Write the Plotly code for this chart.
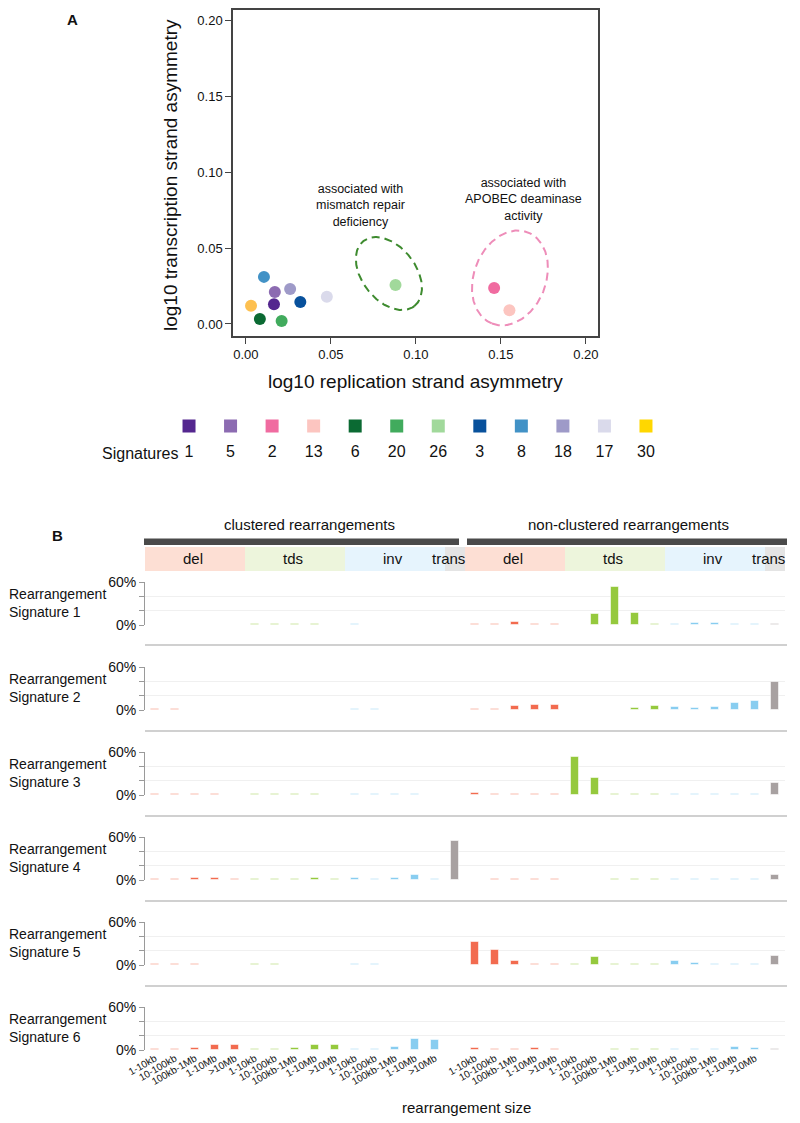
import numpy as np
import plotly.graph_objects as go

W, H = 800, 1123
FONT = "Liberation Sans, Arial, Helvetica, sans-serif"
PAGE_OFF = 8  # default body margin of the html page


def fx(p):
    return (p - PAGE_OFF) / W


def fy(p):
    return 1 - (p - PAGE_OFF) / H


# ---------------- Panel A data ----------------
signatures = ["1", "5", "2", "13", "6", "20", "26", "3", "8", "18", "17", "30"]
legend_colors = ["#54278F", "#8C6BB1", "#F06BA0", "#FCC5C0", "#0B6A33", "#41AB5D",
                 "#A1D99B", "#08519C", "#4292C6", "#9E9AC8", "#DADAEB", "#FFD700"]
point_colors = ["#54278F", "#8C6BB1", "#F06BA0", "#FCC5C0", "#0B6A33", "#41AB5D",
                "#A1D99B", "#08519C", "#4292C6", "#9E9AC8", "#DADAEB", "#FDC050"]
replication_asym = [0.0165, 0.017, 0.146, 0.155, 0.0082, 0.021, 0.088, 0.032,
                    0.0106, 0.026, 0.0476, 0.003]
transcription_asym = [0.013, 0.021, 0.0237, 0.009, 0.0033, 0.002, 0.0257, 0.0145,
                      0.031, 0.023, 0.018, 0.012]
a_ticks = [0.0, 0.05, 0.10, 0.15, 0.20]

# ---------------- Panel B data ----------------
size_labels = ["1-10kb", "10-100kb", "100kb-1Mb", "1-10Mb", ">10Mb"]
classes = ["del", "tds", "inv", "trans"]
class_colors = {"del": "#F26B4F", "tds": "#95C93D", "inv": "#88CDF0", "trans": "#A8A1A1"}
class_bg = {"del": "#FDDFD4", "tds": "#EDF5DC", "inv": "#E6F4FD", "trans": "#E4E4E4"}
groups = ["clustered rearrangements", "non-clustered rearrangements"]

sig1 = [0, 0, 0, 0, 0, 1.5, 1.5, 1.5, 1.5, 0, 1.5, 0, 0, 0, 0, 0,
        1.5, 1.5, 4, 1.5, 1.5, 0, 15, 53, 16.5, 1.5, 1.5, 2.5, 2.5, 1.5, 1.5, 1.5]
sig2 = [1.5, 1.5, 0, 0, 0, 0, 0, 0, 0, 0, 1.5, 1.5, 0, 0, 0, 0,
        2, 1.5, 5.6, 6.5, 7.4, 0, 0, 0, 2.8, 5.6, 4.6, 2.8, 4.6, 10, 12, 39]
sig3 = [1.5, 1.5, 1.5, 1.5, 0, 1.5, 1.5, 1.5, 1.5, 0, 1.5, 1.5, 1.5, 1.5, 0, 0,
        2.2, 1.5, 1.5, 1.5, 1.5, 53, 24, 1.5, 1.5, 1.5, 1.5, 1.5, 1.5, 1.5, 1.5, 17]
sig4 = [1.5, 1.5, 2.2, 3, 1.5, 1.5, 1.5, 1.8, 3, 1.5, 2.2, 1.8, 2.6, 6.5, 1.5, 55,
        0, 1.5, 1.5, 1.5, 1.5, 0, 0, 1.5, 1.8, 1.5, 1.5, 1.5, 1.5, 1.8, 1.5, 7]
sig5 = [1.5, 1.5, 1.5, 0, 0, 1.5, 1.5, 0, 0, 0, 1.5, 1.5, 0, 0, 0, 0,
        31.6, 21, 5, 1.5, 1.5, 1.6, 11.6, 1.5, 1.5, 1.5, 5.6, 3.3, 1.5, 1.5, 2, 13]
sig6 = [1.5, 1.5, 3, 7.5, 7.5, 1.5, 1.5, 3, 7.5, 7, 1.5, 1.5, 4.6, 15, 14, 0,
        2.5, 1.6, 1.6, 2.5, 1.6, 0, 0, 1.5, 1.5, 1.5, 1.5, 1.5, 1.5, 4, 3, 1.5]
rearr_sigs = [sig1, sig2, sig3, sig4, sig5, sig6]
rearr_names = ["Rearrangement<br>Signature %d" % (i + 1) for i in range(6)]

# build category structure
cat_class, cat_label = [], []
for g in groups:
    for c in classes:
        if c == "trans":
            cat_class.append(c)
            cat_label.append("")
        else:
            for s in size_labels:
                cat_class.append(c)
                cat_label.append(s)
NCAT = len(cat_class)
xpos = list(range(NCAT))
bar_colors = [class_colors[c] for c in cat_class]

fig = go.Figure()

# ---------------- Panel A ----------------
A_XPX = (233, 598)
A_YPX = (10, 336)
xA_range = [-0.0076, 0.2071]
yA_range = [-0.0079, 0.2066]

fig.add_trace(go.Scatter(
    x=replication_asym, y=transcription_asym, mode="markers",
    marker=dict(color=point_colors, size=12, line=dict(width=0)),
    xaxis="x", yaxis="y", showlegend=False, hoverinfo="skip"))

sx = (A_XPX[1] - A_XPX[0]) / (xA_range[1] - xA_range[0])
sy = (A_YPX[1] - A_YPX[0]) / (yA_range[1] - yA_range[0])


def ellipse(cx, cy, a, b, phi_deg):
    t = np.linspace(0, 2 * np.pi, 240)
    ph = np.radians(phi_deg)
    ux, uy = np.sin(ph), np.cos(ph)
    vx, vy = np.cos(ph), -np.sin(ph)
    ox = a * np.cos(t) * ux + b * np.sin(t) * vx
    oy = a * np.cos(t) * uy + b * np.sin(t) * vy
    return cx + ox / sx, cy - oy / sy


# (center x, center y, semi-major px, semi-minor px, tilt deg, colour)
ellipses = [
    (0.0841, 0.0332, 41.3, 26.8, 38.0, "#3E8B2F"),
    (0.1553, 0.0303, 49.0, 36.0, -21.5, "#EE8DB9"),
]
for cx, cy, a, b, ph, col in ellipses:
    ex, ey = ellipse(cx, cy, a, b, ph)
    fig.add_trace(go.Scatter(x=ex, y=ey, mode="lines",
                             line=dict(color=col, width=2, dash="8px,5px"),
                             xaxis="x", yaxis="y", showlegend=False, hoverinfo="skip"))

# ---------------- Legend row ----------------
fig.add_trace(go.Scatter(
    x=list(range(len(signatures))), y=[0.78] * len(signatures), mode="markers",
    marker=dict(symbol="square", size=13, color=legend_colors, line=dict(width=0)),
    xaxis="x2", yaxis="y2", showlegend=False, hoverinfo="skip"))
fig.add_trace(go.Scatter(
    x=list(range(len(signatures))), y=[0.24] * len(signatures), mode="text",
    text=signatures, textfont=dict(size=16, color="#111", family=FONT),
    xaxis="x2", yaxis="y2", showlegend=False, hoverinfo="skip"))

# ---------------- Panel B bars ----------------
BASE0 = 625
ROWSTEP = 85
ROWH = 43
for r, vals in enumerate(rearr_sigs):
    fig.add_trace(go.Bar(
        x=xpos, y=vals, width=0.42,
        marker=dict(color=bar_colors, line=dict(color="rgba(255,255,255,0.55)", width=1)),
        xaxis="x%d" % (3 + r), yaxis="y%d" % (3 + r), showlegend=False, hoverinfo="skip"))

layout = dict(
    width=W, height=H, autosize=False,
    margin=dict(l=0, r=0, t=0, b=0, pad=0, autoexpand=False),
    paper_bgcolor="white", plot_bgcolor="rgba(0,0,0,0)",
    font=dict(family=FONT, color="#111"),
    bargap=0,
)

layout["xaxis"] = dict(domain=[fx(A_XPX[0]), fx(A_XPX[1])], range=xA_range, anchor="y",
                       tickvals=a_ticks, tickformat=".2f", ticks="outside", ticklen=6,
                       tickcolor="#444", showline=True, linecolor="#444", linewidth=1.5,
                       mirror=True, showgrid=False, zeroline=False, automargin=False,
                       tickfont=dict(size=13, color="#111"))
layout["yaxis"] = dict(domain=[fy(A_YPX[1]), fy(A_YPX[0])], range=yA_range, anchor="x",
                       tickvals=a_ticks, tickformat=".2f", ticks="outside", ticklen=6,
                       tickcolor="#444", showline=True, linecolor="#444", linewidth=1.5,
                       mirror=True, showgrid=False, zeroline=False, automargin=False,
                       tickfont=dict(size=13, color="#111"))

layout["xaxis2"] = dict(domain=[fx(168.25), fx(666.75)], range=[-0.5, len(signatures) - 0.5],
                        anchor="y2", visible=False, automargin=False)
layout["yaxis2"] = dict(domain=[fy(465), fy(415)], range=[0, 1], anchor="x2", visible=False,
                        automargin=False)

for r in range(6):
    base = BASE0 + ROWSTEP * r
    last = (r == 5)
    layout["xaxis%d" % (3 + r)] = dict(
        domain=[fx(145), fx(785)], range=[-0.5, NCAT - 0.5], anchor="y%d" % (3 + r),
        showgrid=False, zeroline=False, showline=False, ticks="", automargin=False,
        tickvals=xpos, ticktext=cat_label, showticklabels=last, tickangle=-30,
        tickfont=dict(size=10, color="#111"))
    layout["yaxis%d" % (3 + r)] = dict(
        domain=[fy(base), fy(base - ROWH)], range=[0, 60], anchor="x%d" % (3 + r),
        tickvals=[0, 20, 40, 60], ticktext=["0%", "", "", "60%"], automargin=False,
        showline=True, linecolor="#9a9a9a", linewidth=1, ticks="outside", ticklen=5,
        tickcolor="#9a9a9a", showgrid=True, gridcolor="#f0f0f0", gridwidth=1,
        zeroline=False, tickfont=dict(size=14, color="#111"))

shapes = []
annotations = []

# separators between rows
for r in range(5):
    yy = BASE0 + ROWSTEP * r + 21 + (0 if r else -1)
    shapes.append(dict(type="line", xref="paper", yref="paper", x0=fx(145), x1=fx(787),
                       y0=fy(yy), y1=fy(yy), line=dict(color="#d0d0d0", width=2)))

# header bars (group)
for x0, x1 in [(144, 459), (467, 787)]:
    shapes.append(dict(type="rect", xref="paper", yref="paper", x0=fx(x0), x1=fx(x1),
                       y0=fy(545), y1=fy(538.5), fillcolor="#4a4a4a", line=dict(width=0),
                       layer="above"))

# class backgrounds from category structure
i = 0
class_spans = []
while i < NCAT:
    j = i
    while j + 1 < NCAT and cat_class[j + 1] == cat_class[i]:
        j += 1
    class_spans.append((cat_class[i], i, j))
    i = j + 1
for c, i0, i1 in class_spans:
    shapes.append(dict(type="rect", xref="x3", yref="paper", x0=i0 - 0.5, x1=i1 + 0.5,
                       y0=fy(571), y1=fy(547), fillcolor=class_bg[c], line=dict(width=0),
                       layer="below"))
    if c == "trans":
        xc = (i0 + i1) / 2 - 0.35
    else:
        xc = (i0 + i1) / 2 - 0.1
    annotations.append(dict(text=c, xref="x3", yref="paper", x=xc, y=fy(558),
                            showarrow=False, font=dict(size=15, color="#111"),
                            xanchor="center", yanchor="middle"))

# group titles
annotations.append(dict(text=groups[0], xref="paper", yref="paper", x=fx(309), y=fy(524),
                        showarrow=False, font=dict(size=15), xanchor="center", yanchor="middle"))
annotations.append(dict(text=groups[1], xref="paper", yref="paper", x=fx(628), y=fy(524),
                        showarrow=False, font=dict(size=15), xanchor="center", yanchor="middle"))

# row labels
for r in range(6):
    base = BASE0 + ROWSTEP * r
    annotations.append(dict(text=rearr_names[r], xref="paper", yref="paper",
                            x=fx(7), y=fy(base - 22), showarrow=False, align="left",
                            xanchor="left", yanchor="middle", font=dict(size=14)))

# panel letters
annotations.append(dict(text="<b>A</b>", xref="paper", yref="paper", x=fx(72), y=fy(20),
                        showarrow=False, font=dict(size=15), xanchor="center", yanchor="middle"))
annotations.append(dict(text="<b>B</b>", xref="paper", yref="paper", x=fx(57), y=fy(535),
                        showarrow=False, font=dict(size=15), xanchor="center", yanchor="middle"))

# panel A axis titles
annotations.append(dict(text="log10 replication strand asymmetry", xref="paper", yref="paper",
                        x=fx(415), y=fy(382), showarrow=False, font=dict(size=19),
                        xanchor="center", yanchor="middle"))
annotations.append(dict(text="log10 transcription strand asymmetry", xref="paper", yref="paper",
                        x=fx(170), y=fy(175), showarrow=False, font=dict(size=19),
                        textangle=-90, xanchor="center", yanchor="middle"))

# ellipse notes
annotations.append(dict(text="associated with<br>mismatch repair<br>deficiency",
                        xref="paper", yref="paper", x=fx(360), y=fy(205), showarrow=False,
                        font=dict(size=12.5), align="center", xanchor="center", yanchor="middle"))
annotations.append(dict(text="associated with<br>APOBEC deaminase<br>activity",
                        xref="paper", yref="paper", x=fx(523), y=fy(200), showarrow=False,
                        font=dict(size=12.5), align="center", xanchor="center", yanchor="middle"))

# legend title
annotations.append(dict(text="Signatures", xref="paper", yref="paper", x=fx(181), y=fy(453),
                        showarrow=False, font=dict(size=16), xanchor="right", yanchor="middle"))

# x title for panel B
annotations.append(dict(text="rearrangement size", xref="paper", yref="paper", x=fx(466),
                        y=fy(1107), showarrow=False, font=dict(size=15), xanchor="center",
                        yanchor="middle"))

layout["shapes"] = shapes
layout["annotations"] = annotations
fig.update_layout(**layout)

fig.write_html("out.html")
